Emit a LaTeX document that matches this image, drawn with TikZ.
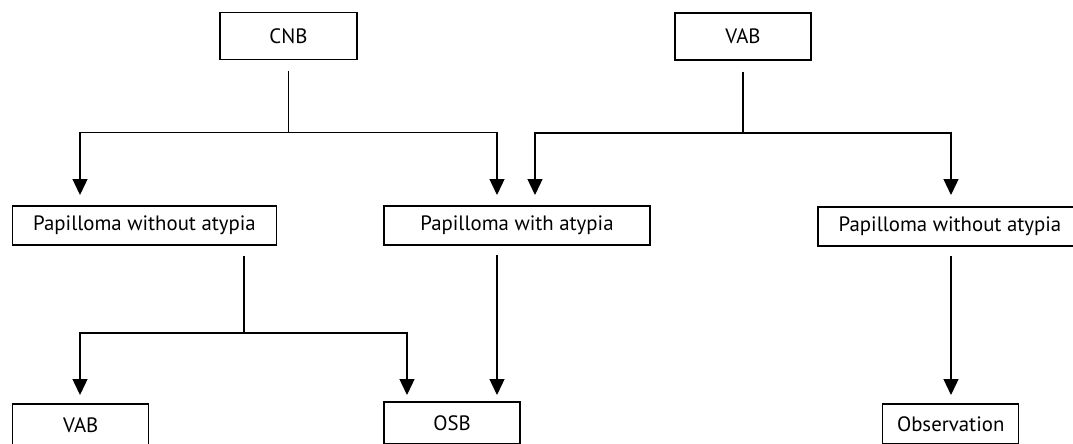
\documentclass[tikz,border=0pt]{standalone}
\usepackage{fontspec}
\setmainfont{PT Sans}
\usetikzlibrary{arrows.meta}
\begin{document}
\begin{tikzpicture}[x=1pt,y=-1pt,
  box/.style={draw=black,line width=1.3pt,rectangle,inner sep=0pt,
    font=\fontsize{20.8}{24}\selectfont},
  link/.style={draw=black,line width=1.3pt},
  arr/.style={link,-{Triangle[width=15pt,length=16pt]}}]
\clip (0,0) rectangle (1073,444);
\fill[white] (0,0) rectangle (1073,444);
% nodes
\node[box,minimum width=137pt,minimum height=47pt] (cnb) at (288.5,36) {CNB};
\node[box,minimum width=136pt,minimum height=47pt] (vabtop) at (743,36.4) {VAB};
\node[box,minimum width=264pt,minimum height=39pt] (pwa1) at (144.5,225.5) {Papilloma without atypia};
\node[box,minimum width=266pt,minimum height=39pt] (pa) at (517,225.5) {Papilloma with atypia};
\node[box,minimum width=264pt,minimum height=39pt] (pwa2) at (950,226.5) {Papilloma without atypia};
\node[box,minimum width=136pt,minimum height=42pt] (vabbot) at (80.7,425) {VAB};
\node[box,minimum width=136pt,minimum height=42pt] (osb) at (452,423) {OSB};
\node[box,minimum width=136pt,minimum height=40pt] (obs) at (950.7,424) {Observation};
% junctions and arrow ends
\coordinate (j1) at (288.5,132.5);
\coordinate (t1a) at (80,195);
\coordinate (t1b) at (497,195);
\coordinate (j2) at (743,133);
\coordinate (t2a) at (535,195);
\coordinate (t2b) at (951,195);
\coordinate (j3) at (244,333);
\coordinate (t3a) at (80,395);
\coordinate (t3b) at (407,395);
\coordinate (s4) at (497,255);
\coordinate (t4) at (497,395);
\coordinate (s5) at (951,256);
\coordinate (t5) at (951,395);
\coordinate (s3) at (244,256);
% connectors
\draw[link,shorten <=11pt] (cnb.south) -- (j1);
\draw[arr] (j1) -| (t1a);
\draw[arr] (j1) -| (t1b);
\draw[link,shorten <=11pt] (vabtop.south) -- (j2);
\draw[arr] (j2) -| (t2a);
\draw[arr] (j2) -| (t2b);
\draw[link] (s3) -- (j3);
\draw[arr] (j3) -| (t3a);
\draw[arr] (j3) -| (t3b);
\draw[arr] (s4) -- (t4);
\draw[arr] (s5) -- (t5);
\end{tikzpicture}
\end{document}
